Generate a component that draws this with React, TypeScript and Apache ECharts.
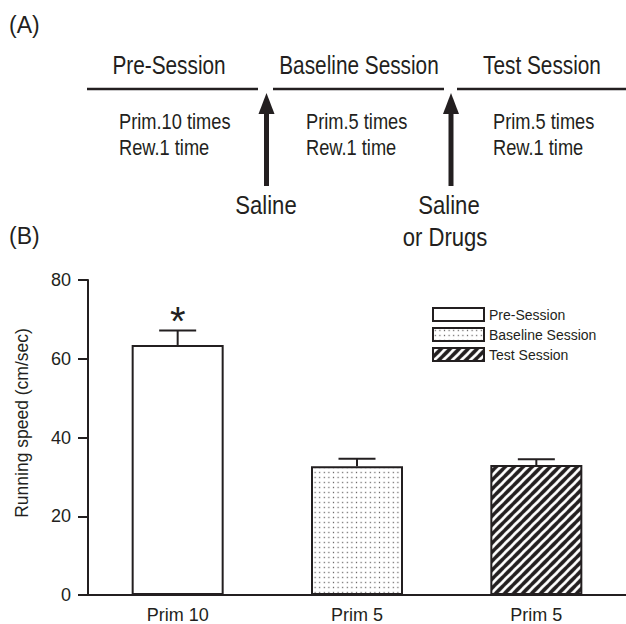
import React, { useEffect, useRef } from 'react';
import * as echarts from 'echarts';

// ---------- data ----------
const categories = ['Prim 10', 'Prim 5', 'Prim 5'];
const sessions = ['Pre-Session', 'Baseline Session', 'Test Session'];
const means = [63.5, 32.7, 33.0];
const errorTops = [67.2, 34.6, 34.5];
const marks = ['*', '', ''];
const yMin = 0;
const yMax = 80;
const yInterval = 20;
const yName = 'Running speed (cm/sec)';

// panel (A) texts
const sessionTitles = ['Pre-Session', 'Baseline Session', 'Test Session'];
const sessionNotes = [
  ['Prim.10 times', 'Rew.1 time'],
  ['Prim.5 times', 'Rew.1 time'],
  ['Prim.5 times', 'Rew.1 time'],
];
const injections = [['Saline'], ['Saline', 'or Drugs']];
const panelLabels = ['(A)', '(B)'];

const INK = '#231f20';
const FONT = "'Liberation Sans', Arial, Helvetica, sans-serif";

function makeDots() {
  const c = document.createElement('canvas');
  c.width = 46;
  c.height = 50;
  const g = c.getContext('2d')!;
  g.fillStyle = '#ffffff';
  g.fillRect(0, 0, 46, 50);
  g.fillStyle = INK;
  g.fillRect(18, 20, 10, 10);
  return { image: c, repeat: 'repeat', imageWidth: 4.6, imageHeight: 5 } as any;
}

function makeStripes() {
  const s = 90;
  const c = document.createElement('canvas');
  c.width = s;
  c.height = s;
  const g = c.getContext('2d')!;
  g.fillStyle = '#ffffff';
  g.fillRect(0, 0, s, s);
  g.strokeStyle = INK;
  g.lineWidth = 36;
  for (const cc of [0, s, 2 * s]) {
    g.beginPath();
    g.moveTo(-30, cc + 30);
    g.lineTo(s + 30, cc - s - 30);
    g.stroke();
  }
  return { image: c, repeat: 'repeat', imageWidth: 9, imageHeight: 9 } as any;
}

function panelA(): any[] {
  const els: any[] = [];
  const txt = (text: string, x: number, y: number, size: number, sx: number, align = 'center') => ({
    type: 'text',
    x,
    y,
    scaleX: sx,
    style: { text, fontSize: size, fontFamily: FONT, fill: INK, textAlign: align, textVerticalAlign: 'middle' },
  });
  els.push(txt(panelLabels[0], 9, 25, 23, 1, 'left'));
  els.push(txt(panelLabels[1], 9, 236, 23, 1, 'left'));
  const titleX = [169, 359, 542];
  const lineSeg = [
    [87, 258],
    [273, 444],
    [457, 626],
  ];
  const noteX = [119, 306, 493];
  sessionTitles.forEach((t, i) => {
    els.push(txt(t, titleX[i], 65, 26, 0.8));
    els.push({
      type: 'line',
      shape: { x1: lineSeg[i][0], y1: 89, x2: lineSeg[i][1], y2: 89 },
      style: { stroke: INK, lineWidth: 2.5 },
    });
    sessionNotes[i].forEach((n, j) => {
      els.push(txt(n, noteX[i], 121 + j * 26, 22, 0.83, 'left'));
    });
  });
  const arrowX = [266.5, 451];
  const injX = [266, 449];
  arrowX.forEach((ax, i) => {
    els.push({
      type: 'line',
      shape: { x1: ax, y1: 110, x2: ax, y2: 186 },
      style: { stroke: INK, lineWidth: 5 },
    });
    els.push({
      type: 'polygon',
      shape: { points: [[ax - 8, 114], [ax + 8, 114], [ax, 93]] },
      style: { fill: INK },
    });
    injections[i].forEach((t, j) => {
      els.push(txt(t, injX[i] - (j === 1 ? 4 : 0), 205 + j * 32, 26, 0.85));
    });
  });
  return els;
}

export default function App() {
  const ref = useRef<HTMLDivElement>(null);
  useEffect(() => {
    if (!ref.current) return;
    const chart = echarts.init(ref.current, undefined, { renderer: 'svg' });
    const fills = ['#ffffff', makeDots(), makeStripes()];
    const option: any = {
      animation: false,
      backgroundColor: '#ffffff',
      textStyle: { fontFamily: FONT },
      grid: { left: 88, right: -8, top: 280, bottom: 29, containLabel: false },
      legend: {
        data: sessions,
        orient: 'vertical',
        left: 432,
        top: 307,
        padding: 0,
        itemWidth: 51,
        itemHeight: 13,
        itemGap: 5,
        icon: 'rect',
        selectedMode: false,
        itemStyle: { borderColor: INK, borderWidth: 2 },
        textStyle: { fontSize: 14, color: INK, fontFamily: FONT },
      },
      xAxis: {
        type: 'category',
        data: categories,
        axisLine: { lineStyle: { color: INK, width: 2 } },
        axisTick: { show: false },
        axisLabel: { fontSize: 18, color: INK, margin: 11, fontFamily: FONT },
      },
      yAxis: {
        type: 'value',
        min: yMin,
        max: yMax,
        interval: yInterval,
        splitLine: { show: false },
        axisLine: { show: true, lineStyle: { color: INK, width: 2 } },
        axisTick: { show: true, length: 10, lineStyle: { color: INK, width: 2 } },
        axisLabel: { fontSize: 18, color: INK, margin: 17, fontFamily: FONT },
      },
      graphic: [
        ...panelA(),
        {
          type: 'text',
          x: 22,
          y: 423,
          rotation: Math.PI / 2,
          style: {
            text: yName,
            fontSize: 17.5,
            fontFamily: FONT,
            fill: INK,
            textAlign: 'center',
            textVerticalAlign: 'middle',
          },
        },
      ],
      series: [
        ...sessions.map((name, k) => ({
          name,
          type: 'bar',
          barWidth: 92,
          barGap: '-100%',
          data: means.map((v, i) => (i === k ? v : '-')),
          itemStyle: { color: fills[k], borderColor: INK, borderWidth: 2 },
        })),
        {
          type: 'custom',
          name: 'error',
          data: categories.map((_, i) => [i, means[i], errorTops[i]]),
          encode: { x: 0, y: [1, 2] },
          z: 5,
          renderItem: (params: any, api: any) => {
            const i = api.value(0);
            const base = api.coord([i, api.value(1)]);
            const top = api.coord([i, api.value(2)]);
            const half = 18.5;
            const children: any[] = [
              {
                type: 'line',
                shape: { x1: base[0], y1: base[1], x2: top[0], y2: top[1] },
                style: { stroke: INK, lineWidth: 2 },
              },
              {
                type: 'line',
                shape: { x1: top[0] - half, y1: top[1], x2: top[0] + half, y2: top[1] },
                style: { stroke: INK, lineWidth: 2 },
              },
            ];
            const m = marks[params.dataIndex];
            if (m) {
              children.push({
                type: 'text',
                x: top[0],
                y: top[1] - 9,
                style: {
                  text: m,
                  fontSize: 40,
                  fontFamily: FONT,
                  fill: INK,
                  textAlign: 'center',
                  textVerticalAlign: 'middle',
                },
              });
            }
            return { type: 'group', children };
          },
        },
      ],
    };
    chart.setOption(option);
    return () => chart.dispose();
  }, []);
  return (
    <div
      ref={ref}
      style={{ position: 'absolute', left: 0, top: 0, width: 626, height: 624, background: '#fff' }}
    />
  );
}
